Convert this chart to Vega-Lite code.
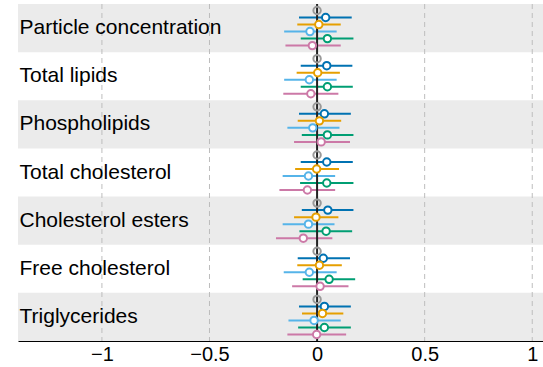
{
  "$schema": "https://vega.github.io/schema/vega-lite/v6.json",
  "width": 525,
  "height": 337,
  "autosize": {"type": "none"},
  "padding": {"left": 18, "top": 4, "right": 0, "bottom": 26},
  "background": "white",
  "config": {"view": {"stroke": null}, "font": "Liberation Sans"},
  "datasets": {
    "est": [
      {"label": "Particle concentration", "series": "Ref", "est": 0, "lo": 0, "hi": 0},
      {"label": "Particle concentration", "series": "M1", "est": 0.040, "lo": -0.084, "hi": 0.161},
      {"label": "Particle concentration", "series": "M2", "est": 0.008, "lo": -0.092, "hi": 0.110},
      {"label": "Particle concentration", "series": "M3", "est": -0.033, "lo": -0.153, "hi": 0.091},
      {"label": "Particle concentration", "series": "M4", "est": 0.048, "lo": -0.076, "hi": 0.169},
      {"label": "Particle concentration", "series": "M5", "est": -0.022, "lo": -0.147, "hi": 0.110},
      {"label": "Total lipids", "series": "Ref", "est": 0, "lo": 0, "hi": 0},
      {"label": "Total lipids", "series": "M1", "est": 0.045, "lo": -0.076, "hi": 0.164},
      {"label": "Total lipids", "series": "M2", "est": 0.003, "lo": -0.095, "hi": 0.106},
      {"label": "Total lipids", "series": "M3", "est": -0.036, "lo": -0.153, "hi": 0.091},
      {"label": "Total lipids", "series": "M4", "est": 0.048, "lo": -0.076, "hi": 0.166},
      {"label": "Total lipids", "series": "M5", "est": -0.029, "lo": -0.157, "hi": 0.099},
      {"label": "Phospholipids", "series": "Ref", "est": 0, "lo": 0, "hi": 0},
      {"label": "Phospholipids", "series": "M1", "est": 0.034, "lo": -0.084, "hi": 0.157},
      {"label": "Phospholipids", "series": "M2", "est": 0.011, "lo": -0.090, "hi": 0.112},
      {"label": "Phospholipids", "series": "M3", "est": -0.020, "lo": -0.138, "hi": 0.104},
      {"label": "Phospholipids", "series": "M4", "est": 0.048, "lo": -0.071, "hi": 0.169},
      {"label": "Phospholipids", "series": "M5", "est": 0.019, "lo": -0.107, "hi": 0.153},
      {"label": "Total cholesterol", "series": "Ref", "est": 0, "lo": 0, "hi": 0},
      {"label": "Total cholesterol", "series": "M1", "est": 0.045, "lo": -0.076, "hi": 0.166},
      {"label": "Total cholesterol", "series": "M2", "est": -0.002, "lo": -0.102, "hi": 0.102},
      {"label": "Total cholesterol", "series": "M3", "est": -0.040, "lo": -0.160, "hi": 0.084},
      {"label": "Total cholesterol", "series": "M4", "est": 0.045, "lo": -0.079, "hi": 0.169},
      {"label": "Total cholesterol", "series": "M5", "est": -0.045, "lo": -0.175, "hi": 0.084},
      {"label": "Cholesterol esters", "series": "Ref", "est": 0, "lo": 0, "hi": 0},
      {"label": "Cholesterol esters", "series": "M1", "est": 0.050, "lo": -0.071, "hi": 0.169},
      {"label": "Cholesterol esters", "series": "M2", "est": -0.005, "lo": -0.107, "hi": 0.099},
      {"label": "Cholesterol esters", "series": "M3", "est": -0.040, "lo": -0.160, "hi": 0.081},
      {"label": "Cholesterol esters", "series": "M4", "est": 0.042, "lo": -0.082, "hi": 0.163},
      {"label": "Cholesterol esters", "series": "M5", "est": -0.064, "lo": -0.191, "hi": 0.071},
      {"label": "Free cholesterol", "series": "Ref", "est": 0, "lo": 0, "hi": 0},
      {"label": "Free cholesterol", "series": "M1", "est": 0.029, "lo": -0.090, "hi": 0.153},
      {"label": "Free cholesterol", "series": "M2", "est": 0.011, "lo": -0.092, "hi": 0.115},
      {"label": "Free cholesterol", "series": "M3", "est": -0.036, "lo": -0.155, "hi": 0.091},
      {"label": "Free cholesterol", "series": "M4", "est": 0.056, "lo": -0.067, "hi": 0.177},
      {"label": "Free cholesterol", "series": "M5", "est": 0.014, "lo": -0.116, "hi": 0.146},
      {"label": "Triglycerides", "series": "Ref", "est": 0, "lo": 0, "hi": 0},
      {"label": "Triglycerides", "series": "M1", "est": 0.034, "lo": -0.084, "hi": 0.157},
      {"label": "Triglycerides", "series": "M2", "est": 0.025, "lo": -0.070, "hi": 0.122},
      {"label": "Triglycerides", "series": "M3", "est": -0.014, "lo": -0.133, "hi": 0.110},
      {"label": "Triglycerides", "series": "M4", "est": 0.034, "lo": -0.088, "hi": 0.157},
      {"label": "Triglycerides", "series": "M5", "est": -0.002, "lo": -0.138, "hi": 0.135}
    ],
    "bands": [
      {"label": "Particle concentration"},
      {"label": "Phospholipids"},
      {"label": "Cholesterol esters"},
      {"label": "Triglycerides"}
    ],
    "grid": [{"v": -1}, {"v": -0.5}, {"v": 0.5}, {"v": 1}],
    "zero": [{"v": 0}]
  },
  "layer": [
    {
      "data": {"name": "bands"},
      "mark": {"type": "rule", "color": "#EBEBEB", "strokeWidth": 48.2, "strokeCap": "butt"},
      "encoding": {
        "y": {
          "field": "label", "type": "nominal",
          "scale": {
            "type": "band",
            "domain": ["Particle concentration", "Total lipids", "Phospholipids", "Total cholesterol", "Cholesterol esters", "Free cholesterol", "Triglycerides"],
            "paddingInner": 0, "paddingOuter": 0
          },
          "axis": {
            "title": null, "domain": false, "ticks": false, "grid": false,
            "labelAlign": "left", "labelPadding": -1, "labelFontSize": 21,
            "labelColor": "black", "labelLimit": 500, "zindex": 1
          }
        }
      }
    },
    {
      "data": {"name": "grid"},
      "mark": {"type": "rule", "strokeDash": [5, 4], "color": "#BDBDBD", "strokeWidth": 1},
      "encoding": {
        "x": {
          "field": "v", "type": "quantitative",
          "scale": {"domain": [-1.39, 1.05], "nice": false, "zero": false},
          "axis": {
            "title": null, "values": [-1, -0.5, 0, 0.5, 1], "format": "~g", "grid": false,
            "domainColor": "black", "domainWidth": 1,
            "tickColor": "#555", "tickSize": -5, "labelPadding": 8,
            "labelFontSize": 20, "labelColor": "black", "labelFlush": false
          }
        }
      }
    },
    {
      "data": {"name": "est"},
      "mark": {"type": "rule", "strokeWidth": 2},
      "encoding": {
        "x": {"field": "lo", "type": "quantitative"},
        "x2": {"field": "hi"},
        "y": {"field": "label", "type": "nominal", "scale": {"type": "band"}},
        "yOffset": {"field": "series", "type": "nominal", "scale": {"type": "point", "padding": 0.93, "domain": ["Ref", "M1", "M2", "M3", "M4", "M5"]}},
        "color": {"field": "series", "type": "nominal", "scale": {"domain": ["Ref", "M1", "M2", "M3", "M4", "M5"], "range": ["#999999", "#0072B2", "#E69F00", "#56B4E9", "#009E73", "#CC79A7"]}, "legend": null}
      }
    },
    {
      "data": {"name": "zero"},
      "mark": {"type": "rule", "color": "#222222", "strokeWidth": 2},
      "encoding": {"x": {"field": "v", "type": "quantitative"}}
    },
    {
      "data": {"name": "est"},
      "mark": {"type": "point", "shape": "circle", "size": 55, "strokeWidth": 2, "opacity": 1},
      "encoding": {
        "x": {"field": "est", "type": "quantitative"},
        "y": {"field": "label", "type": "nominal", "scale": {"type": "band"}},
        "yOffset": {"field": "series", "type": "nominal"},
        "stroke": {"field": "series", "type": "nominal", "scale": {"domain": ["Ref", "M1", "M2", "M3", "M4", "M5"], "range": ["#999999", "#0072B2", "#E69F00", "#56B4E9", "#009E73", "#CC79A7"]}, "legend": null},
        "fill": {"condition": {"test": "datum.series === 'Ref'", "value": "transparent"}, "value": "white"}
      }
    }
  ]
}
